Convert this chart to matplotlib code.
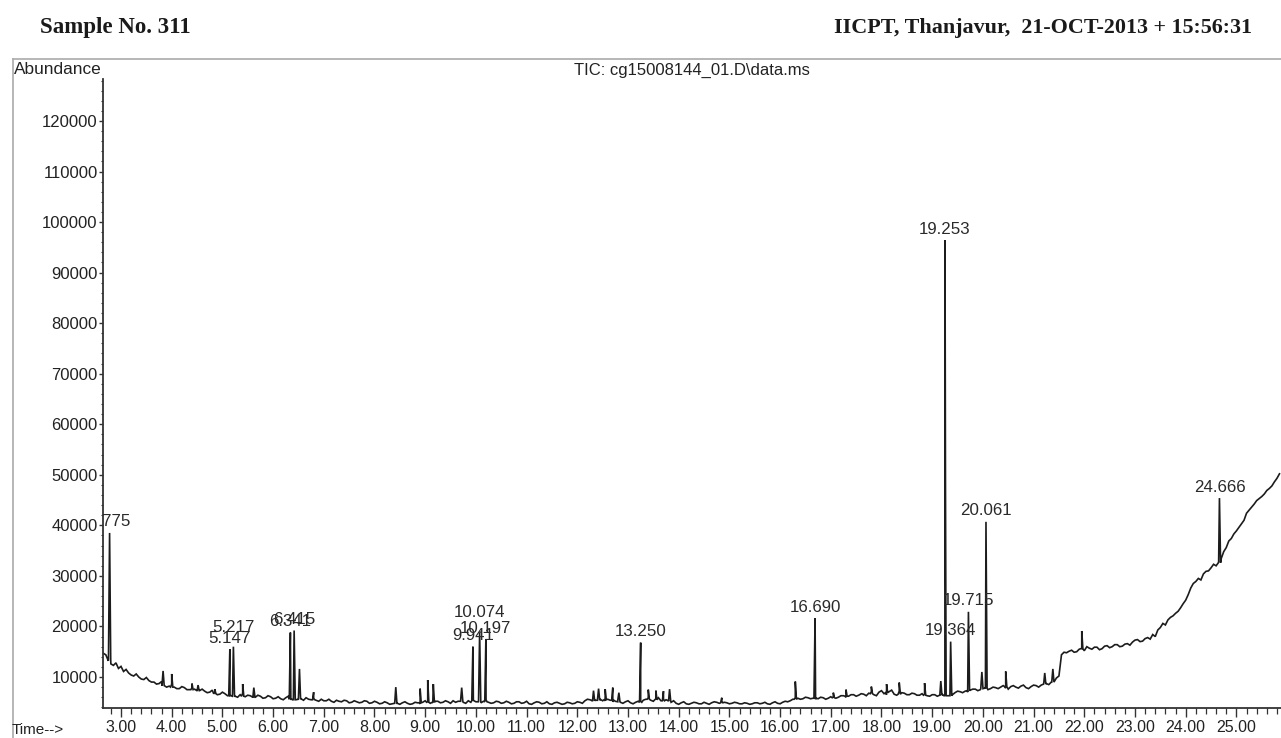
import numpy as np
import matplotlib
matplotlib.use('Agg')
import matplotlib.pyplot as plt
from matplotlib.ticker import MultipleLocator, FixedLocator, FuncFormatter
from matplotlib.lines import Line2D

plt.rcParams['font.family'] = ['Liberation Sans', 'DejaVu Sans']

# ---------------- text ----------------
header_left = "Sample No. 311"
header_right = "IICPT, Thanjavur,  21-OCT-2013 + 15:56:31"
chart_title = "TIC: cg15008144_01.D\\data.ms"
y_label = "Abundance"
x_label = "Time-->"

# ---------------- data ----------------
# baseline trace, one value every 0.05 min starting at 2.65 min (rows = 1 min)
base_start = 2.65
base_step = 0.05
base_y = [
    14700, 14400, 13200, 12600, 12300, 12800, 11700, 12100, 11100, 11500,
    10800, 10400, 10200, 10600, 10000, 9600, 9500, 9900, 9300, 9000,
    9000, 8600, 8700, 9100, 8400, 8000, 8200, 8600, 8000, 7700,
    7700, 8100, 7900, 7500, 7500, 7900, 7600, 7200, 7300, 7600,
    7200, 6900, 7000, 7400, 6900, 6500, 6600, 7000, 6700, 6300,
    6300, 6700, 6200, 6000, 6500, 6800, 6100, 6400, 6300, 5900,
    6000, 6400, 6200, 5800, 5900, 6300, 6100, 5700, 5800, 6100,
    5700, 5500, 5900, 6200, 5600, 5400, 5500, 5800, 5700, 5400,
    5900, 5600, 5500, 5800, 5400, 5200, 5600, 5300, 5300, 5600,
    5200, 5000, 5400, 5200, 5100, 5400, 5300, 4900, 5000, 5300,
    5100, 4900, 5000, 5300, 5200, 4800, 4900, 5200, 5000, 4700,
    4800, 5100, 4900, 4600, 4700, 5000, 4800, 4600, 4900, 5100,
    4800, 4600, 4700, 5000, 4900, 4700, 5000, 5300, 5100, 4800,
    4900, 5200, 5200, 4900, 5000, 5300, 5100, 4800, 5300, 5000,
    5200, 5500, 5000, 4800, 5300, 5000, 5400, 5100, 5100, 4900,
    5200, 5500, 5000, 4800, 4900, 5200, 5100, 4800, 4900, 5200,
    5000, 4700, 4800, 5100, 5100, 4800, 4900, 5200, 4700, 4600,
    4900, 5100, 5000, 4700, 4800, 5100, 4700, 4600, 4900, 5000,
    4800, 4600, 4700, 5000, 4900, 4700, 4800, 5100, 5000, 4800,
    5300, 5600, 5500, 5200, 5400, 5700, 5600, 5300, 5300, 5600,
    5400, 5100, 5200, 5500, 5000, 4800, 5100, 5300, 4900, 4700,
    5000, 5200, 5200, 5400, 5600, 5900, 5400, 5200, 5700, 5900,
    5300, 5600, 5500, 5200, 5000, 5300, 4800, 4600, 4900, 5100,
    4700, 4600, 4800, 5000, 4900, 4700, 4700, 5000, 4800, 4600,
    4900, 5100, 5000, 4800, 5200, 5000, 4900, 4700, 4800, 5000,
    4900, 4700, 4700, 4900, 4800, 4600, 4700, 4900, 4900, 4700,
    4800, 5000, 4700, 4600, 4900, 5100, 4800, 4700, 5000, 5200,
    5100, 5300, 5600, 5900, 5800, 5600, 5700, 6000, 5900, 5700,
    5800, 5600, 5700, 6000, 5900, 5600, 5800, 6100, 6100, 5800,
    6000, 6300, 6300, 6000, 6200, 6500, 6500, 6200, 6400, 6700,
    6600, 6300, 6800, 7100, 6500, 6300, 7000, 7300, 6700, 6500,
    7100, 7400, 6600, 6400, 7200, 6900, 6800, 6500, 6500, 6800,
    6700, 6400, 6400, 6700, 6600, 6300, 6200, 6500, 6500, 6200,
    6300, 6600, 6400, 6300, 6300, 6500, 6900, 7200, 7100, 6900,
    7200, 7000, 7400, 7600, 7600, 7300, 7500, 7800, 7800, 7500,
    7700, 8000, 7900, 7700, 8000, 8300, 7800, 7600, 8100, 8300,
    8000, 7800, 8200, 8400, 7900, 7700, 8100, 8400, 8300, 8000,
    8400, 8700, 8700, 8500, 9000, 9400, 9800, 10200, 14400, 14900,
    14800, 15100, 15300, 14900, 15000, 15500, 15600, 15200, 16000, 15700,
    15500, 15900, 15900, 15400, 15600, 16100, 16200, 15800, 16000, 16400,
    16400, 16000, 16100, 16500, 16600, 16300, 16900, 17300, 17400, 17000,
    17100, 17600, 17800, 17500, 18400, 18000, 19300, 19800, 20600, 20300,
    21300, 21800, 22100, 22600, 23000, 23700, 24500, 25200, 26300, 27600,
    28500, 28900, 29500, 29200, 30400, 30900, 31000, 31600, 32300, 32000,
    32800, 33400, 34800, 35600, 36900, 37400, 38300, 38900, 39600, 40300,
    41000, 42400, 43000, 43600, 44200, 44900, 45300, 45700, 46200, 46900,
    47300, 47800, 48600, 49300, 50200,
]

# labelled peaks: retention time, apex abundance, foot abundance
peak_t = [2.775, 5.147, 5.217, 6.341, 6.415, 9.941, 10.074, 10.197,
          13.250, 16.690, 19.253, 19.364, 19.715, 20.061, 24.666]
peak_h = [38500, 15500, 16000, 18800, 19200, 16000, 18800, 17500,
          16800, 21600, 96400, 17000, 22900, 40700, 45400]
peak_base = [13500, 6300, 6200, 5600, 5500, 5300, 5200, 5100,
             5000, 5800, 6300, 6300, 7300, 7800, 32600]

# unlabelled small peaks / shoulders
minor_t = [3.83, 4.00, 4.40, 4.52, 4.85, 5.40, 5.62, 6.52, 6.80, 8.42,
           8.90, 9.05, 9.16, 9.72, 12.32, 12.42, 12.55, 12.70, 12.82, 13.40,
           13.55, 13.70, 13.82, 14.85, 16.30, 17.05, 17.30, 17.80, 18.10, 18.35,
           18.85, 19.17, 19.262, 19.98, 20.45, 21.22, 21.38, 21.95]
minor_h = [11200, 10600, 8700, 8400, 7600, 8600, 7900, 11600, 7000, 8000,
           7700, 9400, 8600, 7900, 7300, 7700, 7600, 7900, 6900, 7500,
           7300, 7200, 7600, 5900, 9100, 6900, 7500, 8100, 8600, 8900,
           8800, 9200, 48600, 11000, 11100, 10800, 11600, 19100]
minor_base = [8300, 8000, 7500, 7300, 6700, 6200, 6000, 5600, 5500, 4800,
              4900, 5000, 5000, 5200, 5300, 5400, 5500, 5400, 5100, 5600,
              5500, 5300, 5300, 4900, 5600, 5900, 6200, 6700, 6900, 6600,
              6400, 6400, 6300, 7700, 8100, 8600, 9000, 15600]

x_ticks = [3, 4, 5, 6, 7, 8, 9, 10, 11, 12, 13, 14, 15, 16, 17, 18, 19, 20,
           21, 22, 23, 24, 25]
y_ticks = [10000, 20000, 30000, 40000, 50000, 60000, 70000, 80000, 90000,
           100000, 110000, 120000]

# ---------------- build trace ----------------
half_width = 0.022  # peak half width at base (min)
bt = base_start + base_step * np.arange(len(base_y))
pt = np.array(peak_t + minor_t)
ph = np.array(peak_h + minor_h)
pb = np.array(peak_base + minor_base)
t_all = np.concatenate([bt, pt - half_width, pt, pt + half_width])
y_all = np.concatenate([np.array(base_y, float), pb, ph, pb])
order = np.argsort(t_all, kind='stable')
t_all, y_all = t_all[order], y_all[order]

# ---------------- figure ----------------
W, H = 1281, 738
fig = plt.figure(figsize=(W / 100, H / 100), dpi=100)
ax_l, ax_r, ax_b, ax_t = 103, 1281, 708, 79
ax = fig.add_axes([ax_l / W, (H - ax_b) / H, (ax_r - ax_l) / W, (ax_b - ax_t) / H])

ax.plot(t_all, y_all, color='#1c1c1c', lw=1.2, solid_joinstyle='miter')

ax.set_xlim(2.645, 25.88)
ax.set_ylim(3870, 128300)

for s in ['top', 'right']:
    ax.spines[s].set_visible(False)
for s in ['left', 'bottom']:
    ax.spines[s].set_color('#333333')
    ax.spines[s].set_linewidth(1.3)

ax.xaxis.set_major_locator(FixedLocator(x_ticks))
ax.xaxis.set_major_formatter(FuncFormatter(lambda v, p: f"{v:.2f}"))
ax.xaxis.set_minor_locator(MultipleLocator(0.2))
ax.yaxis.set_major_locator(FixedLocator(y_ticks))
ax.yaxis.set_major_formatter(FuncFormatter(lambda v, p: f"{int(round(v))}"))
ax.yaxis.set_minor_locator(MultipleLocator(2000))

ax.tick_params(axis='x', which='major', direction='out', length=6.5, width=1.0,
               color='#333333', labelsize=11.5, labelcolor='#222222', pad=2.5)
ax.tick_params(axis='x', which='minor', direction='out', length=4.3, width=0.9,
               color='#333333')
ax.tick_params(axis='y', which='major', direction='out', length=3.0, width=1.0,
               color='#333333', labelsize=12, labelcolor='#222222', pad=0.8)
ax.tick_params(axis='y', which='minor', direction='out', length=1.8, width=0.8,
               color='#333333')

# peak labels (ChemStation style: centred just above each apex)
label_offset_px = {'5.217': 19, '10.074': 20}
for t, h in zip(peak_t, peak_h):
    lab = f"{t:.3f}"
    off = label_offset_px.get(lab, 11)
    ax.annotate(lab, xy=(t, h), xytext=(0, off * 0.72), textcoords='offset points',
                ha='center', va='center', fontsize=12.2, color='#2a2a2a',
                clip_on=True)

# outer frame (grey) and texts
fig.add_artist(Line2D([13 / W, 1.0], [1 - 59 / H, 1 - 59 / H], color='#aaaaaa', lw=1.2))
fig.add_artist(Line2D([13 / W, 13 / W], [0, 1 - 59 / H], color='#aaaaaa', lw=1.2))

fig.text(14 / W, 1 - 70 / H, y_label, ha='left', va='center', fontsize=12.4, color='#222222')
fig.text(12 / W, 1 - 730 / H, x_label, ha='left', va='center', fontsize=11, color='#222222')
fig.text(((ax_l + ax_r) / 2) / W, 1 - 70 / H, chart_title, ha='center', va='center',
         fontsize=12, color='#222222')
fig.text(40 / W, 1 - 28 / H, header_left, ha='left', va='center', fontsize=16.5,
         fontweight='bold', family=['Liberation Serif', 'DejaVu Serif'], color='#1a1a1a')
fig.text(1252 / W, 1 - 28 / H, header_right, ha='right', va='center', fontsize=15.8,
         fontweight='bold', family=['Liberation Serif', 'DejaVu Serif'], color='#1a1a1a')

fig.savefig('out.png', dpi=100)
